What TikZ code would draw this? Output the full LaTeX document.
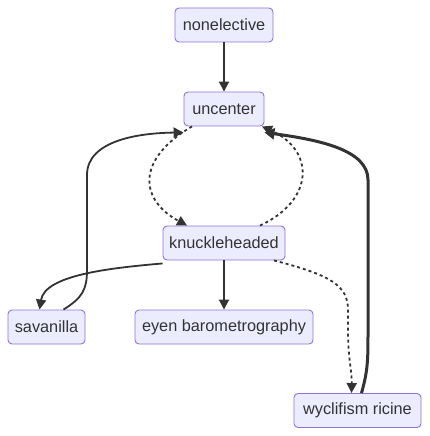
\documentclass[tikz,border=0pt]{standalone}
\usepackage{fontspec}
\setmainfont{Liberation Sans}
\usetikzlibrary{arrows.meta}
\definecolor{nodefill}{HTML}{ECECFF}
\definecolor{nodeline}{HTML}{9370DB}
\definecolor{ink}{HTML}{333333}
\begin{document}
\begin{tikzpicture}[x=1pt,y=-1pt,
  box/.style={draw=nodeline,fill=nodefill,rounded corners=4pt,line width=0.9pt,
    text=ink,font=\fontsize{16.3}{19}\selectfont,inner sep=0pt,minimum height=34pt},
  edge/.style={draw=ink,line width=1.8pt,-{Triangle[length=10pt,width=10pt]}},
  dot/.style={edge,dash pattern=on 3pt off 3pt},
  thick edge/.style={edge,line width=3pt,-{Triangle[length=10pt,width=11pt]}}]
\useasboundingbox (0,0) rectangle (430,436);
\node[box,minimum width=98pt] (non) at (224,25) {nonelective};
\node[box,minimum width=80pt] (unc) at (224,109) {uncenter};
\node[box,minimum width=122pt] (knu) at (224,243) {knuckleheaded};
\node[box,minimum width=77pt] (sav) at (46.5,327) {savanilla};
\node[box,minimum width=178pt] (eye) at (224,327) {eyen barometrography};
\node[box,minimum width=127pt] (wyc) at (357.5,410.5) {wyclifism ricine};

\draw[edge] (non) -- (unc);
\draw[dot] ([xshift=-32pt]unc.south) .. controls (135,160) and (140,200) .. ([xshift=-37pt]knu.north);
\draw[dot] ([xshift=36pt]knu.north) .. controls (315,200) and (315,150) .. ([xshift=38pt]unc.south);
\draw[edge] ([yshift=-3pt]knu.south west) .. controls (110,268) and (45,275) .. ([xshift=-7pt]sav.north);
\draw[edge] ([xshift=17pt]sav.north) .. controls (82,298) and (87,290) .. (87,270) -- (87,175) .. controls (87,140) and (140,133) .. ([yshift=-6pt]unc.south west);
\draw[edge] (knu) -- (eye);
\draw[dot] ([xshift=50pt]knu.south) .. controls (330,275) and (348,285) .. (348,310) -- (348,330) .. controls (348,360) and (352,370) .. ([xshift=-6pt]wyc.north);
\draw[thick edge] ([xshift=4pt]wyc.north) .. controls (368,370) and (368,360) .. (368,330) -- (368,180) .. controls (368,150) and (320,140) .. ([yshift=-6pt]unc.south east);
\end{tikzpicture}
\end{document}
